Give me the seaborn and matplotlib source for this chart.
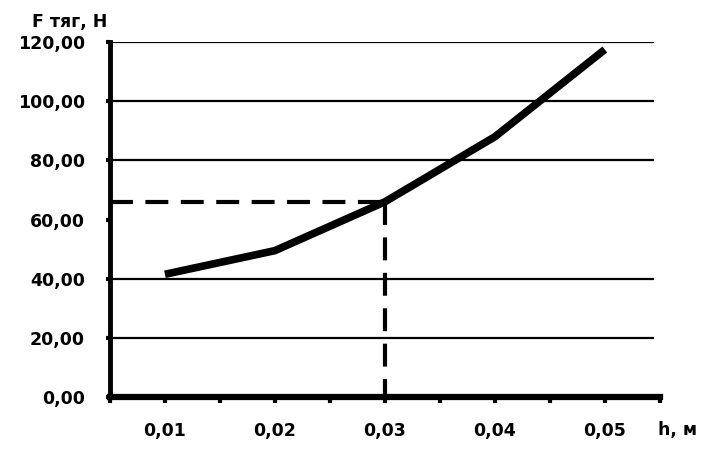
import matplotlib
matplotlib.use("Agg")
import matplotlib.pyplot as plt
import seaborn as sns
import pandas as pd

h_values = [0.01, 0.02, 0.03, 0.04, 0.05]
force_values = [41.5, 49.5, 66.0, 88.0, 117.5]
y_ticks = [0, 20, 40, 60, 80, 100, 120]
y_tick_labels = ["0,00", "20,00", "40,00", "60,00", "80,00", "100,00", "120,00"]
x_tick_labels = ["0,01", "0,02", "0,03", "0,04", "0,05"]
grid_levels = [20, 40, 80, 100, 120]
marker_h = 0.03
marker_f = 66.0

sns.set_theme(style="white")
plt.rcParams['font.family'] = ['DejaVu Sans']
plt.rcParams['text.color'] = 'black'
plt.rcParams['xtick.color'] = 'black'
plt.rcParams['ytick.color'] = 'black'
plt.rcParams['axes.labelcolor'] = 'black'

df = pd.DataFrame({"h": h_values, "F": force_values})

fig = plt.figure(figsize=(7.15, 4.53), dpi=100)
ax = fig.add_axes([0.1538, 0.1236, 0.769, 0.7834])

ax.set_xlim(0.005, 0.055)
ax.set_ylim(0, 120)

for g in grid_levels:
    ax.hlines(g, 0.005, 0.0545, color="black", lw=1.6, zorder=1)

sns.lineplot(data=df, x="h", y="F", ax=ax, color="black", lw=5.5, zorder=3,
             solid_capstyle="butt")

ax.plot([0.005, marker_h], [marker_f, marker_f], color="black", lw=3,
        dashes=(5.5, 3), zorder=2)
ax.plot([marker_h, marker_h], [marker_f, 0], color="black", lw=3,
        dashes=(5.5, 3), zorder=2)

ax.set_yticks(y_ticks)
ax.set_yticklabels(y_tick_labels, fontsize=12.5, fontweight="bold")
ax.set_xticks([0.005 + 0.005 * i for i in range(11)])
ax.set_xticklabels(["" if i % 2 == 0 else x_tick_labels[(i - 1) // 2] for i in range(11)],
                   fontsize=12.5, fontweight="bold")

for side in ["top", "right"]:
    ax.spines[side].set_visible(False)
ax.spines["left"].set_linewidth(3.5)
ax.spines["bottom"].set_linewidth(4.5)
ax.spines["left"].set_color("black")
ax.spines["bottom"].set_color("black")

ax.tick_params(axis="y", which="major", length=3, width=3, color="black", pad=15)
ax.tick_params(axis="x", which="major", length=4, width=3, color="black", pad=14)
ax.tick_params(axis="both", direction="out", left=True, bottom=True)

ax.set_xlabel("")
ax.set_ylabel("")

fig.text(32 / 715, 1 - 22 / 453, "F тяг, Н", fontsize=12.5, fontweight="bold",
         ha="left", va="center")
fig.text(658 / 715, 1 - 430 / 453, "h, м", fontsize=12.5, fontweight="bold",
         ha="left", va="center")

fig.savefig("out.png", dpi=100, facecolor="white")
